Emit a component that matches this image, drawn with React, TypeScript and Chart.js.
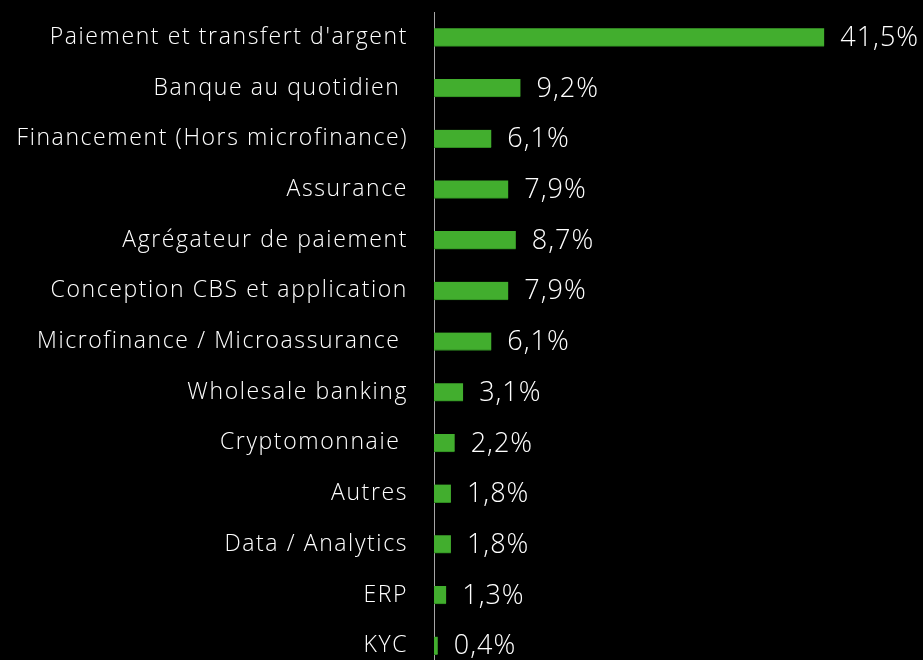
import React, { useEffect, useRef } from "react";
import { Chart, registerables } from "chart.js";

Chart.register(...registerables);

const categories: string[] = [
  "Paiement et transfert d'argent",
  "Banque au quotidien ",
  "Financement (Hors microfinance)",
  "Assurance",
  "Agrégateur de paiement",
  "Conception CBS et application",
  "Microfinance / Microassurance ",
  "Wholesale banking",
  "Cryptomonnaie ",
  "Autres",
  "Data / Analytics",
  "ERP",
  "KYC",
];

const values: number[] = [41.5, 9.2, 6.1, 7.9, 8.7, 7.9, 6.1, 3.1, 2.2, 1.8, 1.8, 1.3, 0.4];

const FONT = "'Open Sans', sans-serif";

const spacing = {
  id: "spacing",
  beforeDraw(chart: any) {
    (chart.ctx as any).letterSpacing = "1.6px";
  },
  afterDraw(chart: any) {
    (chart.ctx as any).letterSpacing = "0px";
  },
};

const valueLabels = {
  id: "valueLabels",
  afterDatasetsDraw(chart: any) {
    const ctx = chart.ctx;
    const meta = chart.getDatasetMeta(0);
    ctx.save();
    (ctx as any).letterSpacing = "1px";
    ctx.fillStyle = "#ffffff";
    ctx.font = `300 27px ${FONT}`;
    ctx.textAlign = "left";
    ctx.textBaseline = "middle";
    meta.data.forEach((bar: any, i: number) => {
      const txt = values[i].toFixed(1).replace(".", ",") + "%";
      ctx.fillText(txt, bar.x + 16, bar.y + 1);
    });
    ctx.restore();
  },
};

export default function App() {
  const ref = useRef<HTMLCanvasElement | null>(null);

  useEffect(() => {
    if (!ref.current) return;
    const chart = new Chart(ref.current, {
      type: "bar",
      data: {
        labels: categories,
        datasets: [
          {
            data: values,
            backgroundColor: "#42AE2E",
            borderColor: "#2F8A20",
            borderWidth: { bottom: 1, top: 0, left: 0, right: 0 } as any,
            barThickness: 18,
          },
        ],
      },
      options: {
        indexAxis: "y",
        responsive: false,
        animation: false,
        layout: { padding: { top: 12, bottom: 9, left: 0, right: 0 } },
        plugins: {
          legend: { display: false },
          tooltip: { enabled: false },
        },
        scales: {
          x: {
            display: false,
            min: 0,
            max: 52,
          },
          y: {
            afterFit: (s: any) => {
              s.width = 434;
              s.paddingTop = 0;
              s.paddingBottom = 0;
            },
            grid: { display: false, drawTicks: false },
            border: { display: true, color: "#a6a6a6", width: 1 },
            ticks: {
              color: "#ffffff",
              padding: 26,
              font: { family: FONT, size: 23, weight: "300" as any },
            },
          },
        },
      },
      plugins: [spacing, valueLabels],
    });
    return () => chart.destroy();
  }, []);

  return (
    <div
      style={{
        position: "fixed",
        left: 0,
        top: 0,
        width: 923,
        height: 660,
        overflow: "hidden",
        background: "#000000",
      }}
    >
      <canvas ref={ref} width={923} height={680} style={{ display: "block" }} />
    </div>
  );
}
